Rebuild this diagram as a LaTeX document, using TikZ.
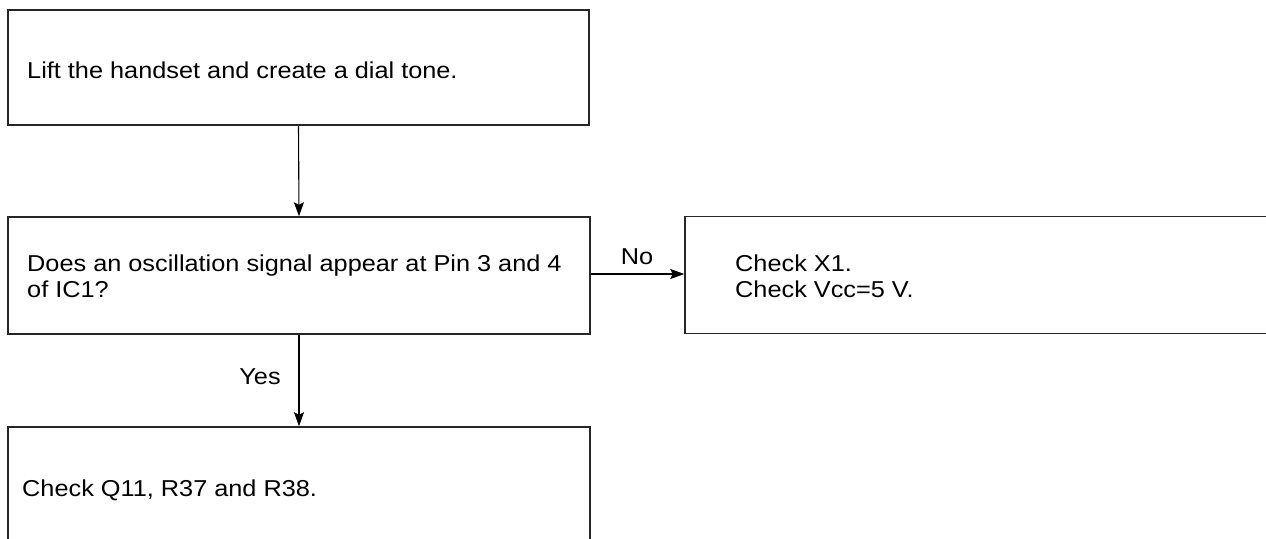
\documentclass[tikz,border=0pt]{standalone}
\usepackage{fontspec}
\setmainfont{Liberation Sans}[FakeStretch=1.1]
\usetikzlibrary{arrows.meta}
\begin{document}
\begin{tikzpicture}[x=1pt,y=-1pt,
  box/.style={draw=black!85,line width=1.5pt,minimum width=#1,minimum height=117pt,inner sep=0pt},
  txt/.style={anchor=base west,inner sep=0pt,font=\fontsize{23pt}{25pt}\selectfont},
  lbl/.style={inner sep=0pt,font=\fontsize{23pt}{25pt}\selectfont},
  arr/.style={line width=1.1pt,-{Stealth[length=14pt,width=10pt,inset=2.5pt]}}]
\path[use as bounding box,clip] (0,0) rectangle (1266,538);
\fill[white] (0,0) rectangle (1266,538);
\node[box=581pt,minimum height=115pt] (b1) at (298.5,67.5) {};
\node[box=582pt] (b2) at (299,275.5) {};
\node[box=582pt] (b3) at (299,485.5) {};
\node[box=600pt] (b4) at (985,275) {};
\node[txt] (t1) at (27,78.5) {Lift the handset and create a dial tone.};
\node[txt] (t2a) at (27,271) {Does an oscillation signal appear at Pin 3 and 4};
\node[txt] (t2b) at (27,297) {of IC1?};
\node[txt] (t3) at (22,496) {Check Q11, R37 and R38.};
\node[txt] (t4a) at (735,271) {Check X1.};
\node[txt] (t4b) at (735,297) {Check Vcc=5 V.};
\draw[arr] (b1.south) -- (b2.north);
\draw[arr] (b2.south) -- (b3.north);
\draw[arr] ([yshift=1.5pt]b2.east) -- ([yshift=1.5pt]b2.east -| b4.west);
\node[lbl] (no) at (637,257) {No};
\node[lbl] (yes) at (260,377) {Yes};
\end{tikzpicture}
\end{document}
